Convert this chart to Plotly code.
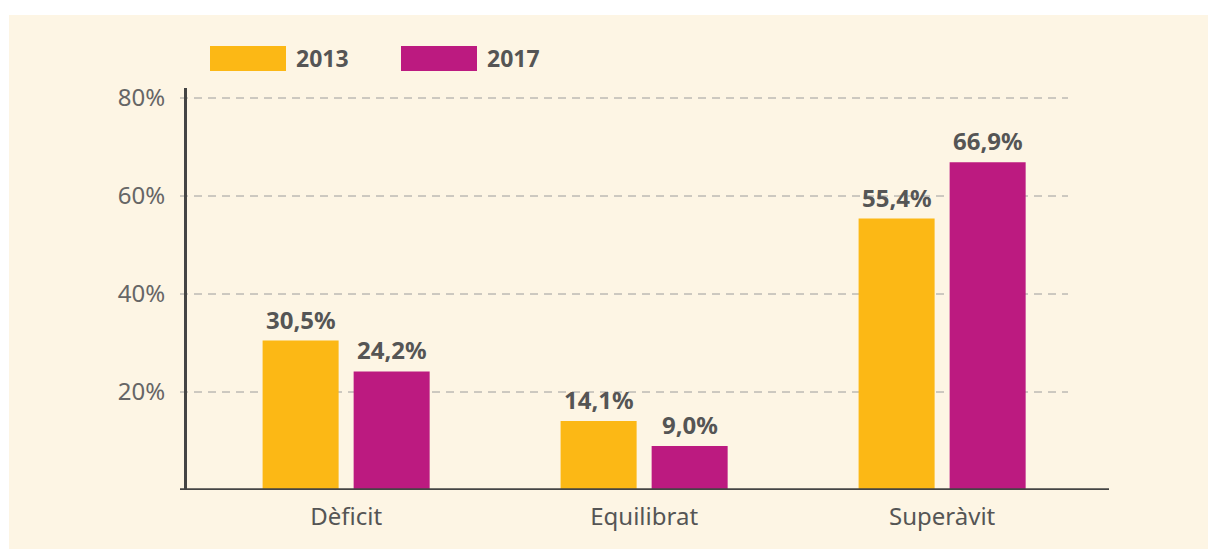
import plotly.graph_objects as go

categories = ["Dèficit", "Equilibrat", "Superàvit"]
series_names = ["2013", "2017"]
values_2013 = [30.5, 14.1, 55.4]
values_2017 = [24.2, 9.0, 66.9]
y_ticks = [20, 40, 60, 80]
y_tick_labels = ["20%", "40%", "60%", "80%"]

colors = ["#FCB815", "#BC1A80"]
series_values = [values_2013, values_2017]
text_color = "#555555"
font_family = "Noto Sans, Open Sans, sans-serif"

fig = go.Figure()
for name, vals, col in zip(series_names, series_values, colors):
    fig.add_trace(go.Bar(
        x=categories, y=vals, name=name, marker_color=col,
        marker_line_width=0, showlegend=False, hoverinfo="skip",
    ))

# plot area geometry (pixels)
W, H = 1208, 549
L, R, T, B = 187, 99, 88, 59
pw = W - L - R
ph = H - T - B

def px_x(p):
    return (p - L) / pw

def px_y(p):
    return (H - B - p) / ph

shapes = []
# cream panel background
shapes.append(dict(type="rect", xref="paper", yref="paper", layer="below",
                   x0=px_x(9), x1=px_x(W + 2), y0=px_y(H + 2), y1=px_y(15),
                   fillcolor="#FDF5E4", line_width=0))
# dashed gridlines
for t in y_ticks:
    shapes.append(dict(type="line", xref="paper", yref="y", layer="below",
                       x0=px_x(180), x1=px_x(1068), y0=t, y1=t,
                       line=dict(color="#9C9C9C", width=1, dash="8px,6px")))
# x axis baseline
shapes.append(dict(type="line", xref="paper", yref="y", layer="above",
                   x0=px_x(180), x1=1, y0=0, y1=0,
                   line=dict(color="#444444", width=3.5)))

annotations = []
# data labels
offsets = [-45.5, 45.5]
for vals, off in zip(series_values, offsets):
    for c, v in zip(categories, vals):
        annotations.append(dict(
            x=c, y=v, xref="x", yref="y", xshift=off, yshift=3,
            text="<b>" + f"{v:.1f}".replace(".", ",") + "%</b>",
            showarrow=False, yanchor="bottom",
            font=dict(size=24, color=text_color, family=font_family)))

# manual legend
leg_x = [210, 401]
for name, col, lx in zip(series_names, colors, leg_x):
    shapes.append(dict(type="rect", xref="paper", yref="paper",
                       x0=px_x(lx), x1=px_x(lx + 76), y0=px_y(71), y1=px_y(46),
                       fillcolor=col, line_width=0))
    annotations.append(dict(
        xref="paper", yref="paper", x=px_x(lx + 84), y=px_y(58),
        xanchor="left", yanchor="middle", showarrow=False,
        text="<b>" + name + "</b>",
        font=dict(size=23, color=text_color, family=font_family)))

fig.update_layout(
    width=W, height=H,
    margin=dict(l=L, r=R, t=T, b=B, autoexpand=False),
    paper_bgcolor="white",
    plot_bgcolor="rgba(0,0,0,0)",
    barmode="group", bargap=0.389, bargroupgap=0.165,
    shapes=shapes, annotations=annotations,
    font=dict(family=font_family, color=text_color, size=24),
    hovermode=False,
    xaxis=dict(
        range=[-0.534, 2.56], showgrid=False, zeroline=False, showline=False,
        ticks="", tickfont=dict(size=24, color=text_color, family=font_family),
        ticklabelstandoff=10, fixedrange=True,
    ),
    yaxis=dict(
        range=[0, 82.04], tickvals=y_ticks, ticktext=y_tick_labels,
        showgrid=False, zeroline=False, fixedrange=True,
        showline=True, linecolor="#444444", linewidth=3,
        ticks="", ticklabelstandoff=14,
        tickfont=dict(size=24, color="#666666", family=font_family),
    ),
)

fig.write_html(
    "out.html",
    config={"displayModeBar": False},
    post_script="document.body.style.margin='0';document.body.style.padding='0';",
)
